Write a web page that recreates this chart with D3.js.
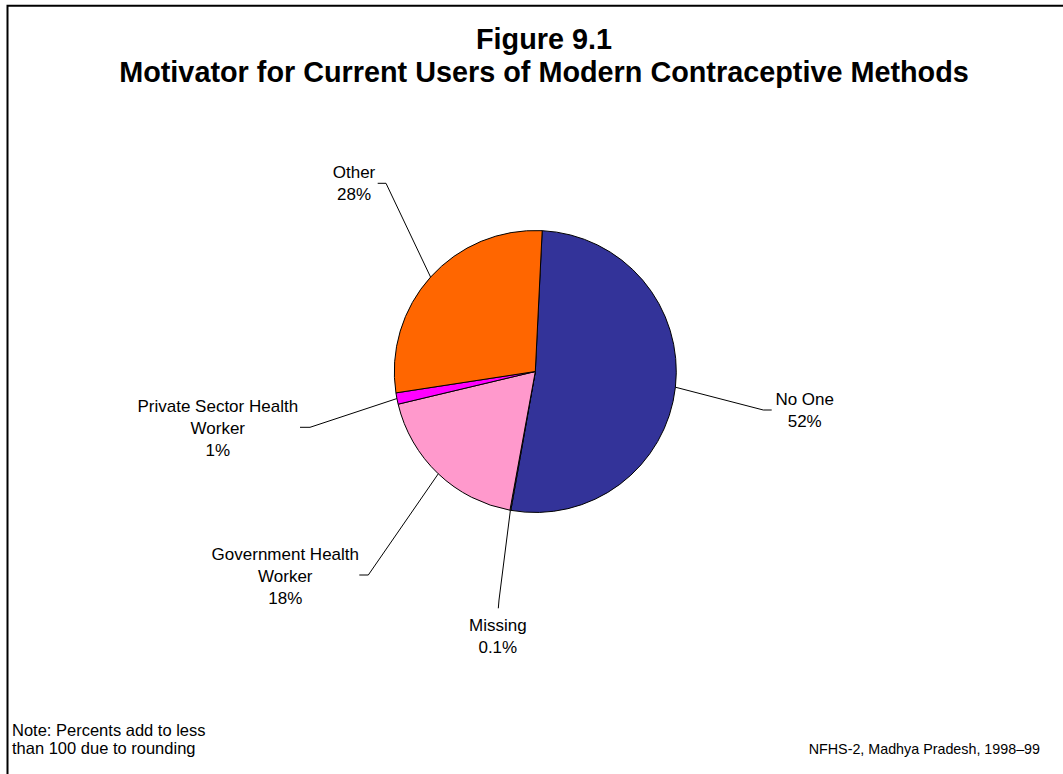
<!DOCTYPE html>
<html>
<head>
<meta charset="utf-8">
<script src="https://cdn.jsdelivr.net/npm/d3@7/dist/d3.min.js"></script>
<style>
  html, body { margin: 0; padding: 0; background: #fff; }
  svg { display: block; }
  text { font-family: "Liberation Sans", Arial, sans-serif; fill: #000; }
</style>
</head>
<body>
<svg id="chart" width="1063" height="774"></svg>
<script>
// ---- data ----
const categories = ["No One", "Missing", "Government Health Worker", "Private Sector Health Worker", "Other"];
const labelLines = [["No One"], ["Missing"], ["Government Health", "Worker"], ["Private Sector Health", "Worker"], ["Other"]];
const values = [52.0, 0.1, 18.4, 1.3, 28.2];
const valueLabels = ["52%", "0.1%", "18%", "1%", "28%"];
const colors = ["#333399", "#CCFFFF", "#FF99CC", "#FF00FF", "#FF6600"];
const titleLines = ["Figure 9.1", "Motivator for Current Users of Modern Contraceptive Methods"];
const noteLines = ["Note: Percents add to less", "than 100 due to rounding"];
const sourceText = "NFHS-2, Madhya Pradesh, 1998\u201399";

// ---- layout ----
const W = 1063, H = 774;
const cx = 535.3, cy = 371.5, R = 141;
const startDeg = 2.8;
const labelFont = 17, lineH = 22;
// label placement: text centre x, first baseline y, leader elbow + end points
const labelLayout = [
  { x: 804.7, y: 404.5, pts: [[763.3, 410], [771.7, 410]] },
  { x: 497.8, y: 630.7, pts: [[499, 600], [498.3, 608.3]] },
  { x: 285.3, y: 560,   pts: [[368.3, 575], [359.3, 575]] },
  { x: 217.8, y: 411.7, pts: [[310, 427.3], [300, 427.3]] },
  { x: 354,   y: 178,   pts: [[386, 183.3], [377.7, 183.3]] }
];

const svg = d3.select("#chart");
svg.append("rect").attr("width", W).attr("height", H).attr("fill", "#fff");

// frame
svg.append("path")
  .attr("d", `M7.5,${H} V5.8 H${W}`)
  .attr("fill", "none").attr("stroke", "#000").attr("stroke-width", 2);

// title
svg.append("text")
  .attr("x", 543).attr("text-anchor", "middle")
  .style("font-weight", "bold").style("font-size", "28.8px")
  .selectAll("tspan").data(titleLines).join("tspan")
  .attr("x", 544).attr("y", (d, i) => 49 + i * 33).text(d => d);

// pie
const pie = d3.pie().sort(null).value(d => d)
  .startAngle(startDeg * Math.PI / 180)
  .endAngle(startDeg * Math.PI / 180 + 2 * Math.PI);
const arcs = pie(values);
const arc = d3.arc().innerRadius(0).outerRadius(R);

const g = svg.append("g").attr("transform", `translate(${cx},${cy})`);
g.selectAll("path.slice").data(arcs).join("path")
  .attr("class", "slice")
  .attr("d", arc)
  .attr("fill", (d, i) => colors[i])
  .attr("stroke", "#000").attr("stroke-width", 1).attr("stroke-linejoin", "round");

// leader lines
const line = d3.line();
arcs.forEach((a, i) => {
  const mid = (a.startAngle + a.endAngle) / 2;
  const p0 = [cx + R * Math.sin(mid), cy - R * Math.cos(mid)];
  const pts = [p0].concat(labelLayout[i].pts);
  svg.append("path").attr("d", line(pts))
    .attr("fill", "none").attr("stroke", "#000").attr("stroke-width", 1);
});

// labels
arcs.forEach((a, i) => {
  const L = labelLayout[i];
  const lines = labelLines[i].concat([valueLabels[i]]);
  const t = svg.append("text").attr("text-anchor", "middle").style("font-size", labelFont + "px");
  lines.forEach((s, k) => {
    t.append("tspan").attr("x", L.x).attr("y", L.y + k * lineH).text(s);
  });
});

// note & source
svg.append("text").style("font-size", "16.5px")
  .selectAll("tspan").data(noteLines).join("tspan")
  .attr("x", 12).attr("y", (d, i) => 736 + i * 18).text(d => d);
svg.append("text").style("font-size", "14.3px").attr("text-anchor", "end")
  .attr("x", 1040).attr("y", 754).text(sourceText);
</script>
</body>
</html>
